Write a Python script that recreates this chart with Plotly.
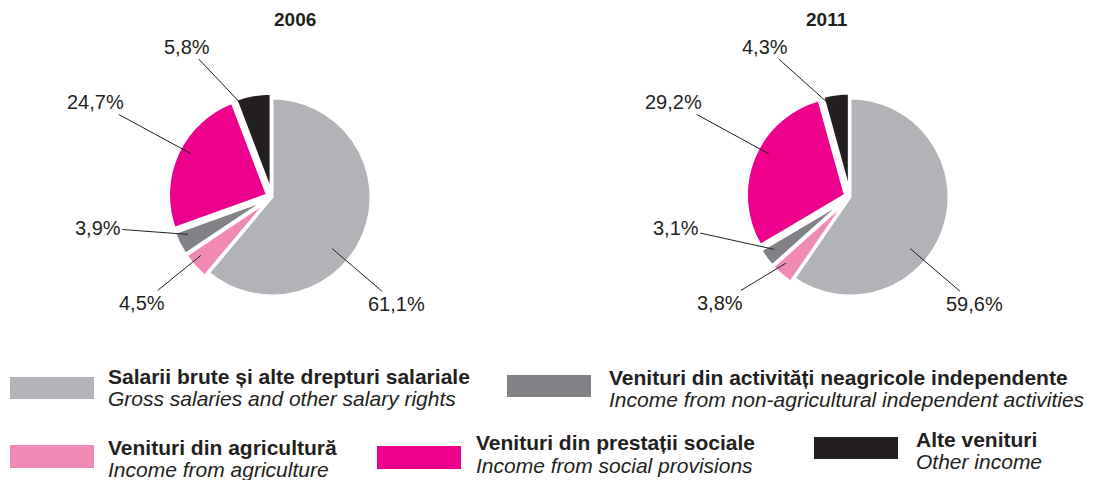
import numpy as np
import plotly.graph_objects as go

# canvas: the page adds an 8px body margin, so the figure is made that much smaller
W, H = 1097, 480
PAGE_MARGIN = 8
FW, FH = W - PAGE_MARGIN, H - PAGE_MARGIN

# data
years = ['2006', '2011']
categories_ro = [
    'Salarii brute și alte drepturi salariale',
    'Venituri din agricultură',
    'Venituri din activități neagricole independente',
    'Venituri din prestații sociale',
    'Alte venituri',
]
categories_en = [
    'Gross salaries and other salary rights',
    'Income from agriculture',
    'Income from non-agricultural independent activities',
    'Income from social provisions',
    'Other income',
]
values_2006 = [61.1, 4.5, 3.9, 24.7, 5.8]
values_2011 = [59.6, 3.8, 3.1, 29.2, 4.3]

colors = ['#b2b3b6', '#f189b5', '#818285', '#ec008c', '#231f20']
text_color = '#231f20'
font_family = 'Liberation Sans, Arial, Helvetica, sans-serif'

# pie placement (window pixels) and style
pie_centers = {'2006': (272, 197), '2011': (850, 197)}
R = 99
pull = [0, 0.05, 0.05, 0.05, 0.05]
max_pull = max(pull)

# where the percentage labels sit, relative to the pie centre, in units of R
label_offsets = [(1.26, 1.08), (-1.31, 1.07), (-1.76, 0.31), (-1.78, -0.96), (-0.86, -1.52)]

# legend layout: rectangle (x0, y0, x1, y1), text x, bold line y, italic line y
legend_items = [
    ((10, 377, 94, 399), 107, 376, 398),
    ((10, 445, 94, 468), 107, 447, 469),
    ((507, 375, 591, 397), 608, 377, 399),
    ((377, 446, 461, 469), 475, 442, 465),
    ((814, 437, 898, 459), 915, 439, 461),
]


def px_x(x):
    return (x - PAGE_MARGIN) / FW


def px_y(y):
    return 1 - (y - PAGE_MARGIN) / FH


def fmt_pct(v):
    return f'{v:.1f}%'.replace('.', ',')


def label_annotations(values, cx, cy):
    """
    Builds the percentage labels with leader lines pointing into each slice
    """
    annotations = []
    total = sum(values)
    cum = np.concatenate([[0], np.cumsum(values)]) / total * 360
    for i, v in enumerate(values):
        a0, a1 = cum[i], cum[i + 1]
        mid = np.radians((a0 + a1) / 2)

        dx, dy = label_offsets[i]
        tx, ty = cx + dx * R, cy + dy * R

        # angle of the label seen from the centre, kept inside the slice
        t_ang = np.degrees(np.arctan2(dx, -dy)) % 360
        if a1 - a0 > 300 and t_ang > a1:
            t_ang -= 360
        margin = min(4, (a1 - a0) / 2)
        t_ang = min(max(t_ang, a0 + margin), a1 - margin)
        t = np.radians(t_ang)

        # slice offset caused by pull, then a point near the rim
        ox = pull[i] * R * np.sin(mid)
        oy = -pull[i] * R * np.cos(mid)
        depth = 0.88 if pull[i] else 0.8
        ix = cx + ox + depth * R * np.sin(t)
        iy = cy + oy - depth * R * np.cos(t)

        annotations.append(dict(
            x=px_x(ix), y=px_y(iy), xref='paper', yref='paper',
            ax=tx - ix, ay=ty - iy, axref='pixel', ayref='pixel',
            text=fmt_pct(v), showarrow=True, arrowhead=0, arrowwidth=1,
            arrowcolor=text_color, standoff=0,
            font=dict(size=20, color=text_color, family=font_family),
        ))
    return annotations


fig = go.Figure()
annotations = []

for year, values in zip(years, [values_2006, values_2011]):
    cx, cy = pie_centers[year]
    half = R * (1 + max_pull)
    fig.add_trace(go.Pie(
        values=values,
        labels=categories_ro,
        marker=dict(colors=colors, line=dict(color='white', width=3)),
        pull=pull,
        sort=False,
        direction='clockwise',
        rotation=0,
        textinfo='none',
        hoverinfo='label+percent',
        showlegend=False,
        domain=dict(x=[px_x(cx - half), px_x(cx + half)],
                    y=[px_y(cy + half), px_y(cy - half)]),
        name=year,
    ))

    # year title
    annotations.append(dict(
        x=px_x(cx), y=px_y(19), xref='paper', yref='paper',
        text=f'<b>{year}</b>', showarrow=False, yanchor='middle',
        font=dict(size=19, color=text_color, family=font_family),
    ))
    annotations += label_annotations(values, cx, cy)

# custom legend
shapes = []
for i, (rect, tx, by, iy) in enumerate(legend_items):
    x0, y0, x1, y1 = rect
    shapes.append(dict(
        type='rect', xref='paper', yref='paper',
        x0=px_x(x0), x1=px_x(x1), y0=px_y(y1), y1=px_y(y0),
        fillcolor=colors[i], line_width=0,
    ))
    annotations.append(dict(
        x=px_x(tx), y=px_y(by), xref='paper', yref='paper',
        text=f'<b>{categories_ro[i]}</b>', showarrow=False,
        xanchor='left', yanchor='middle', borderpad=0,
        font=dict(size=21, color=text_color, family=font_family),
    ))
    annotations.append(dict(
        x=px_x(tx), y=px_y(iy), xref='paper', yref='paper',
        text=f'<i>{categories_en[i]}</i>', showarrow=False,
        xanchor='left', yanchor='middle', borderpad=0,
        font=dict(size=21, color=text_color, family=font_family),
    ))

fig.update_layout(
    width=FW, height=FH,
    margin=dict(l=0, r=0, t=0, b=0),
    paper_bgcolor='white',
    plot_bgcolor='white',
    annotations=annotations,
    shapes=shapes,
)

fig.write_html("out.html")
